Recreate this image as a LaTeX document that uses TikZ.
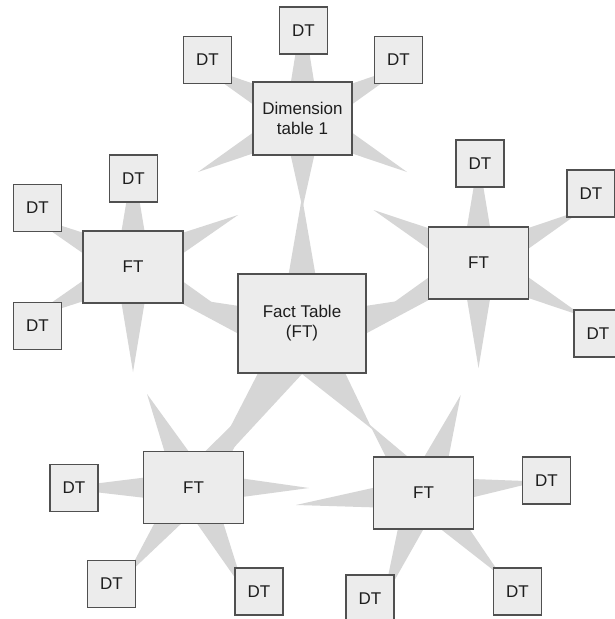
\documentclass[tikz,border=0pt]{standalone}
\usepackage{fontspec}
\setmainfont{Liberation Sans}
\usetikzlibrary{calc}
\pgfdeclarelayer{bg}
\pgfsetlayers{bg,main}
\definecolor{boxfill}{RGB}{236,236,236}
\definecolor{boxline}{RGB}{80,80,80}
\definecolor{spikecol}{RGB}{214,214,214}
\definecolor{txt}{RGB}{30,30,30}
% #1 half width at hub, #2 hub, #3 offset of the tip from the hub
\newcommand{\spike}[3][17.5pt]{%
  \coordinate (sptip) at ($(#2)+(#3)$);
  \fill[spikecol] ($(#2)!#1!90:(sptip)$) -- (sptip) -- ($(#2)!#1!-90:(sptip)$) -- cycle;}
\begin{document}
\begin{tikzpicture}[x=1pt,y=-1pt,
  box/.style={draw=boxline, fill=boxfill, line width=1.1pt, inner sep=0pt,
    align=center, font=\fontsize{17}{20}\selectfont, text=txt},
  dtbox/.style={box, minimum width=48pt, minimum height=47pt},
  ftbox/.style={box, minimum width=100pt, minimum height=72pt}]
\useasboundingbox (0,0) rectangle (614,619);

% hubs
\node[box, minimum width=99pt, minimum height=73pt] (dim) at (302.5,118.5) {Dimension\\table 1};
\node[box, minimum width=128pt, minimum height=99pt] (fact) at (302,323.5) {Fact Table\\(FT)};
\node[ftbox] (ftl) at (133,267) {FT};
\node[ftbox] (ftr) at (478.5,263) {FT};
\node[ftbox] (ftbl) at (193.5,487.5) {FT};
\node[ftbox] (ftbr) at (423.5,493) {FT};

% dimension tables
\node[dtbox] (dt1) at (303.5,30.5) {DT};
\node[dtbox] (dt2) at (207.5,60) {DT};
\node[dtbox] (dt3) at (398.5,60) {DT};
\node[dtbox] (dt4) at (133.5,178.5) {DT};
\node[dtbox] (dt5) at (37.5,208) {DT};
\node[dtbox] (dt6) at (37.5,326) {DT};
\node[dtbox] (dt7) at (480,163.5) {DT};
\node[dtbox] (dt8) at (591,193.5) {DT};
\node[dtbox] (dt9) at (598,333.5) {DT};
\node[dtbox] (dt10) at (74,488) {DT};
\node[dtbox] (dt11) at (111.5,584) {DT};
\node[dtbox] (dt12) at (259,591.5) {DT};
\node[dtbox] (dt13) at (546.5,480.5) {DT};
\node[dtbox] (dt14) at (517.5,591.5) {DT};
\node[dtbox] (dt15) at (370,598.5) {DT};

\begin{pgfonlayer}{bg}
\fill[white] (0,0) rectangle (614,619);
% Dimension table 1 star
\spike{dim.center}{0,-108}
\spike{dim.center}{-104.5,-53.5}
\spike{dim.center}{104.5,-53.5}
\spike{dim.center}{-104.5,53.5}
\spike{dim.center}{104.5,53.5}
\spike[20pt]{dim.center}{0,89.5}
% Fact table star (5 points)
\fill[spikecol] ($(fact.center)+(0,-126.5)$) -- ($(fact.center)+(20,-11)$)
  -- ($(fact.center)+(136,-28.5)$) -- ($(fact.center)+(32.3,27)$)
  -- ($(fact.center)+(70,105.5)$) -- ($(fact.center)+(0,50.5)$)
  -- ($(fact.center)+(-100,158.5)$) -- ($(fact.center)+(-32.3,27)$)
  -- ($(fact.center)+(-136,-28.5)$) -- ($(fact.center)+(-20,-11)$) -- cycle;
% left FT star
\spike{ftl.center}{0,-105}
\spike{ftl.center}{-105,-52}
\spike{ftl.center}{-105,52}
\spike{ftl.center}{0,105}
\spike{ftl.center}{105,-52}
\spike{ftl.center}{105,54}
% right FT star
\spike{ftr.center}{0,-105}
\spike{ftr.center}{105,-53.5}
\spike{ftr.center}{105,53.5}
\spike{ftr.center}{0,105}
\spike{ftr.center}{-105,-53}
\spike{ftr.center}{-105,54}
% bottom-left FT star
\spike[16pt]{ftbl.center}{-133.5,0.5}
\spike[16pt]{ftbl.center}{115.5,0.5}
\spike{ftbl.center}{-46.5,-93.5}
\spike{ftbl.center}{68.5,-92.5}
\spike[18pt]{ftbl.center}{-66.5,87.5}
\spike[18pt]{ftbl.center}{51.5,104.5}
% bottom-right FT star
\spike[16pt]{ftbr.center}{-127.5,12}
\spike[16pt]{ftbr.center}{114.5,-11.5}
\spike[18pt]{ftbr.center}{-53.5,-68}
\spike[18pt]{ftbr.center}{37.2,-98}
\spike[18pt]{ftbr.center}{-40.5,107.6}
\spike[18pt]{ftbr.center}{78.5,84}
\end{pgfonlayer}
\end{tikzpicture}
\end{document}
